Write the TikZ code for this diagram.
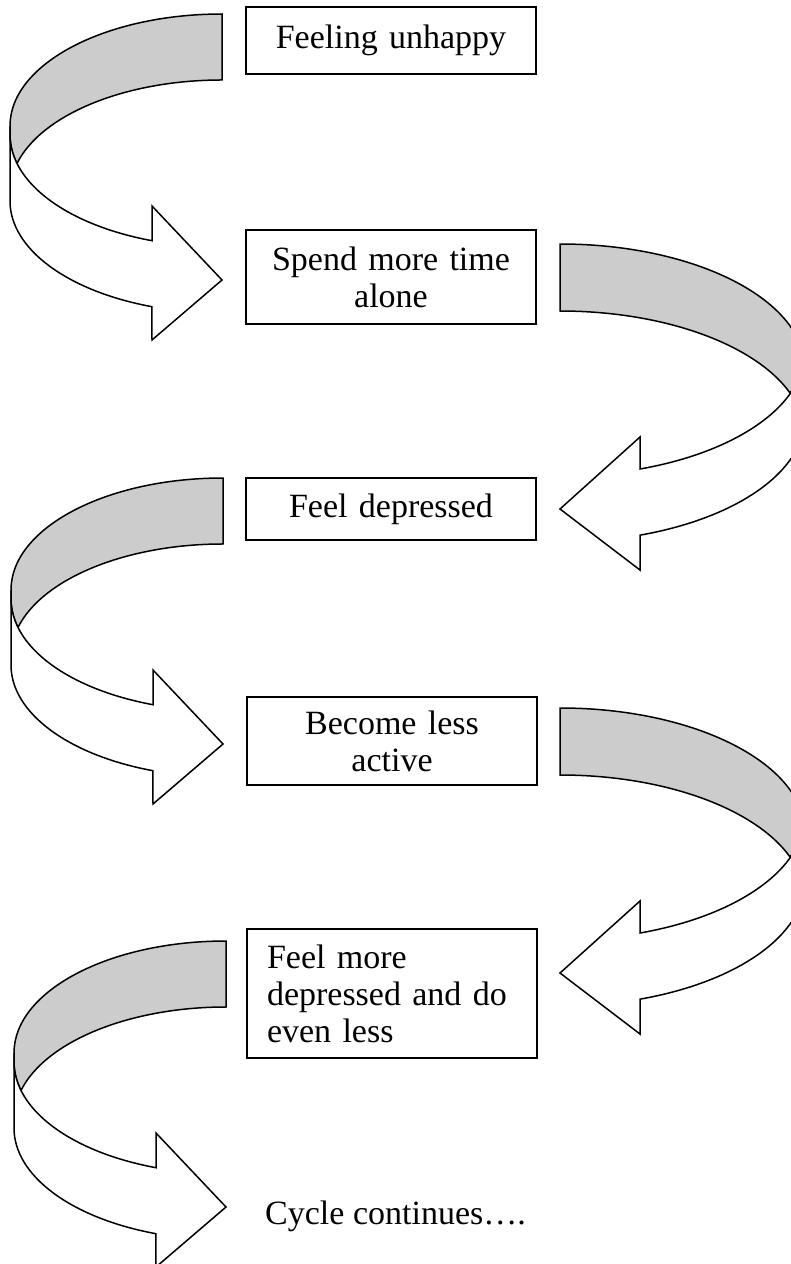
\documentclass[tikz,border=0pt]{standalone}
\usepackage{fontspec}
\setmainfont{Liberation Serif}
\usepackage{tikz}
\definecolor{CycleGray}{HTML}{CCCCCC}

\begin{document}
\begin{tikzpicture}[x=1pt, y=1pt,
  box/.style={draw, line width=1.5pt, minimum width=290pt, text width=250pt,
              inner xsep=20pt, inner ysep=0pt, align=center,
              font=\fontsize{34}{37}\selectfont},
  band/.style={draw, line width=1.5pt, fill=CycleGray},
  shaft/.style={draw, line width=1.5pt, fill=white},
  lbl/.style={inner sep=0pt, font=\fontsize{34}{37}\selectfont},
]
\clip (0,0) rectangle (791,-1264);

%% ---- steps of the cycle ----
\node[box, minimum height=67pt] (unhappy) at (391,-40.5) {Feeling unhappy};
\node[box, minimum height=94pt] (alone) at (391,-277) {Spend more time\\alone};
\node[box, minimum height=62pt] (depressed) at (391,-509) {Feel depressed};
\node[box, minimum height=88pt] (active) at (392,-741) {Become less\\active};
\node[box, minimum height=129pt, align=left] (evenless) at (392,-993.5)
  {Feel more\\depressed and do\\even less};
\node[lbl, anchor=base west] (cont) at (265,-1224) {Cycle continues….};

%% ---- left arrows: turn round on the left, point right ----
\foreach \x/\y in {222/14,223/478,226/941} {
  \begin{scope}[shift={(\x,-\y)}]
    \path[band] (0,0) arc[start angle=90, end angle=180, x radius=212, y radius=112]
      -- (-212,-121) arc[start angle=180, end angle=194.74, x radius=212, y radius=112]
      arc[start angle=165.26, end angle=90, x radius=212, y radius=112] -- cycle;
    \path[shaft] (-212,-112) -- (-212,-187)
      arc[start angle=180, end angle=250.7, x radius=212, y radius=112]
      -- (-70,-326) -- (0,-266) -- (-70,-192) -- (-70,-226.7)
      arc[start angle=250.7, end angle=180, x radius=212, y radius=112] -- cycle;
  \end{scope}
}

%% ---- right arrows: turn round on the right, point left ----
\foreach \x/\y in {560/244,560/708} {
  \begin{scope}[shift={(\x,-\y)}]
    \path[band] (0,0) arc[start angle=90, end angle=0, x radius=245, y radius=125]
      -- (245,-106) arc[start angle=0, end angle=-20.12, x radius=245, y radius=125]
      arc[start angle=20.12, end angle=90, x radius=245, y radius=125] -- cycle;
    \path[shaft] (245,-125) -- (245,-173)
      arc[start angle=0, end angle=-70.94, x radius=245, y radius=125]
      -- (80,-326) -- (0,-265) -- (80,-193) -- (80,-225)
      arc[start angle=-70.94, end angle=0, x radius=245, y radius=125] -- cycle;
  \end{scope}
}
\end{tikzpicture}
\end{document}
